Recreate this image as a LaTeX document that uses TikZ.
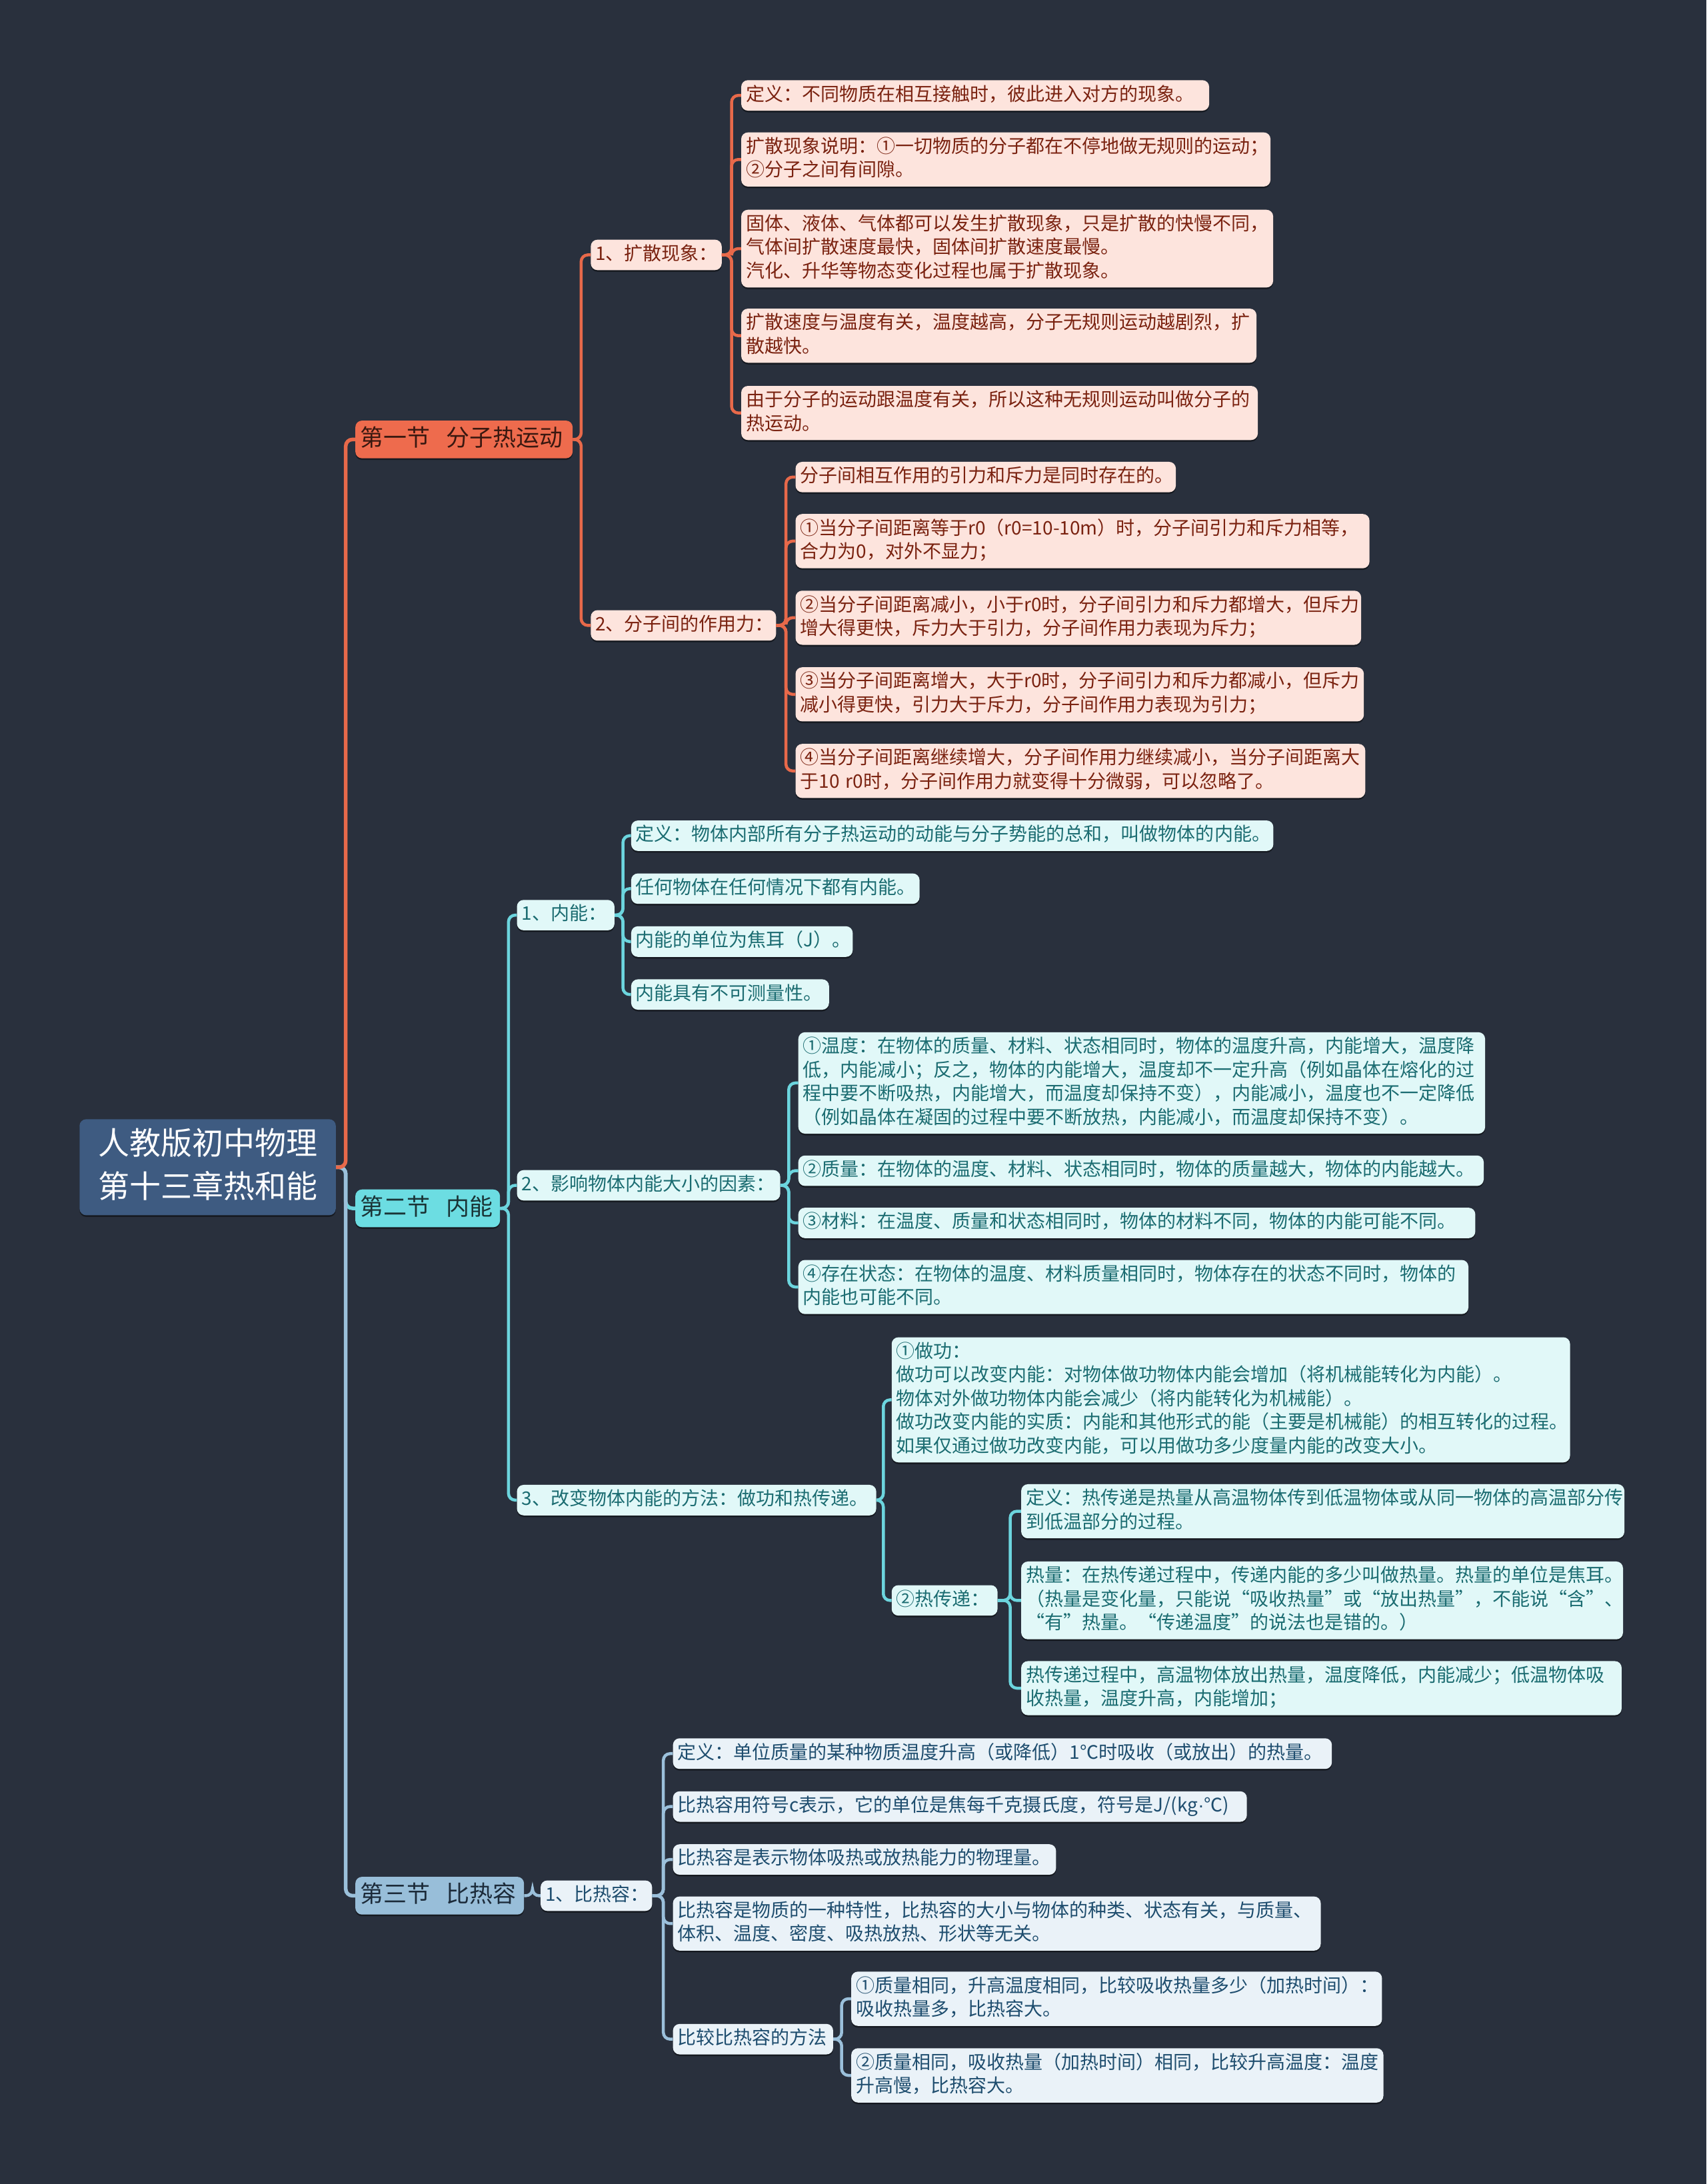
\documentclass[tikz,border=0pt]{standalone}
\usepackage{fontspec}
\setmainfont{Noto Sans CJK SC}
\newfontfamily\latinfont{Liberation Sans}
\usetikzlibrary{calc,shadows}
\definecolor{bg}{HTML}{29303D}
\definecolor{rootfill}{HTML}{3E5B81}
\definecolor{sAfill}{HTML}{EE6B4D}
\definecolor{sAtext}{HTML}{3A1810}
\definecolor{sBfill}{HTML}{6CDDE2}
\definecolor{sBtext}{HTML}{1A3436}
\definecolor{sCfill}{HTML}{98BED9}
\definecolor{sCtext}{HTML}{1C2B3A}
\definecolor{lAfill}{HTML}{FDE4DD}
\definecolor{lAtext}{HTML}{7A2210}
\definecolor{lBfill}{HTML}{E1F8F8}
\definecolor{lBtext}{HTML}{1B6C71}
\definecolor{lCfill}{HTML}{EAF2F8}
\definecolor{lCtext}{HTML}{1E4D6E}
\definecolor{lineA}{HTML}{E8694A}
\definecolor{lineB}{HTML}{6CD5DE}
\definecolor{lineC}{HTML}{9BC0DB}
\newcommand\lstrut{\rule[-8pt]{0pt}{27.5pt}}
\newcommand\sstrut{\rule[-9pt]{0pt}{34pt}}
\newcommand\rstrut{\rule[-12pt]{0pt}{46pt}}
\newcommand\branch[4]{\draw[#1] (#2.east) -- ($(#2.east)+(#3,0)$) |- (#4.west);}
\tikzset{
  boxbase/.style={rounded corners=10pt, anchor=west, align=left,
    drop shadow={opacity=0.45, shadow xshift=0pt, shadow yshift=-2.5pt, fill=black}},
  leafbase/.style={boxbase, inner xsep=7pt, inner ysep=7pt,
    font=\fontsize{28}{35.5}\selectfont,
    execute at begin node=\lstrut, execute at end node=\lstrut},
  leafA/.style={leafbase, fill=lAfill, text=lAtext},
  leafB/.style={leafbase, fill=lBfill, text=lBtext},
  leafC/.style={leafbase, fill=lCfill, text=lCtext},
  secbase/.style={boxbase, inner xsep=7pt, inner ysep=9pt,
    font=\fontsize{35}{44}\selectfont,
    execute at begin node=\sstrut, execute at end node=\sstrut},
  secA/.style={secbase, fill=sAfill, text=sAtext},
  secB/.style={secbase, fill=sBfill, text=sBtext},
  secC/.style={secbase, fill=sCfill, text=sCtext},
  rootbox/.style={boxbase, fill=rootfill, text=white, align=center,
    inner xsep=8pt, inner ysep=13.75pt, font=\fontsize{47}{65}\selectfont,
    execute at begin node=\rstrut, execute at end node=\rstrut},
  conbase/.style={rounded corners=10pt, line width=4.5pt},
  conA/.style={conbase, draw=lineA},
  conB/.style={conbase, draw=lineB},
  conC/.style={conbase, draw=lineC},
}
\begin{document}
\begin{tikzpicture}[x=2.0898pt,y=-2.0898pt]
\fill[bg] (0,0) rectangle (1225,1568);
\useasboundingbox (0,0) rectangle (1225,1568);

% root and sections
\node[rootbox, text width=368.5pt] (root) at (57,838) {人教版初中物理\\第十三章热和能};
\node[secA, text width=312pt] (s1) at (255,315.5) {第一节\hspace{24pt}分子热运动};
\node[secB, text width=203pt] (s2) at (255,867.5) {第二节\hspace{24pt}内能};
\node[secC, text width=239pt] (s3) at (255,1361) {第三节\hspace{24pt}比热容};

% section 1
\node[leafA, text width=182.4pt] (b1) at (424,183) {1、扩散现象：};
\node[leafA, text width=264pt] (b2) at (424,449) {2、分子间的作用力：};

\node[leafA, text width=688pt] (a1) at (532,68.5) {定义：不同物质在相互接触时，彼此进入对方的现象。};
\node[leafA, text width=780pt] (a2) at (532,114.5) {扩散现象说明：①一切物质的分子都在不停地做无规则的运动；\\②分子之间有间隙。};
\node[leafA, text width=784pt] (a3) at (532,178.5) {固体、液体、气体都可以发生扩散现象，只是扩散的快慢不同，\\气体间扩散速度最快，固体间扩散速度最慢。\\汽化、升华等物态变化过程也属于扩散现象。};
\node[leafA, text width=759pt] (a4) at (532,241) {扩散速度与温度有关，温度越高，分子无规则运动越剧烈，扩\\散越快。};
\node[leafA, text width=761pt] (a5) at (532,296.5) {由于分子的运动跟温度有关，所以这种无规则运动叫做分子的\\热运动。};

\node[leafA, text width=556.5pt] (c1) at (571,342.5) {分子间相互作用的引力和斥力是同时存在的。};
\node[leafA, text width=847pt] (c2) at (571,388.5) {①当分子间距离等于r0（r0=10-10m）时，分子间引力和斥力相等，\\合力为0，对外不显力；};
\node[leafA, text width=834.5pt] (c3) at (571,443.5) {②当分子间距离减小，小于r0时，分子间引力和斥力都增大，但斥力\\增大得更快，斥力大于引力，分子间作用力表现为斥力；};
\node[leafA, text width=838.6pt] (c4) at (571,498.5) {③当分子间距离增大，大于r0时，分子间引力和斥力都减小，但斥力\\减小得更快，引力大于斥力，分子间作用力表现为引力；};
\node[leafA, text width=840.7pt] (c5) at (571,553.5) {④当分子间距离继续增大，分子间作用力继续减小，当分子间距离大\\于10~r0时，分子间作用力就变得十分微弱，可以忽略了。};

% section 2
\node[leafB, text width=132.3pt] (d1) at (371,657) {1、内能：};
\node[leafB, text width=381pt] (d2) at (371,851) {2、影响物体内能大小的因素：};
\node[leafB, text width=525pt] (d3) at (371,1077) {3、改变物体内能的方法：做功和热传递。};

\node[leafB, text width=949.4pt] (e1) at (453,600) {定义：物体内部所有分子热运动的动能与分子势能的总和，叫做物体的内能。};
\node[leafB, text width=418.6pt] (e2) at (453,638) {任何物体在任何情况下都有内能。};
\node[leafB, text width=318.3pt] (e3) at (453,676) {内能的单位为焦耳（J）。};
\node[leafB, text width=282.8pt] (e4) at (453,714) {内能具有不可测量性。};

\node[leafB, text width=1016.3pt] (f1) at (573,777.5) {①温度：在物体的质量、材料、状态相同时，物体的温度升高，内能增大，温度降\\低，内能减小；反之，物体的内能增大，温度却不一定升高（例如晶体在熔化的过\\程中要不断吸热，内能增大，而温度却保持不变），内能减小，温度也不一定降低\\（例如晶体在凝固的过程中要不断放热，内能减小，而温度却保持不变）。};
\node[leafB, text width=1014.2pt] (f2) at (573,840.5) {②质量：在物体的温度、材料、状态相同时，物体的质量越大，物体的内能越大。};
\node[leafB, text width=1001.6pt] (f3) at (573,878) {③材料：在温度、质量和状态相同时，物体的材料不同，物体的内能可能不同。};
\node[leafB, text width=991.2pt] (f4) at (573,924) {④存在状态：在物体的温度、材料质量相同时，物体存在的状态不同时，物体的\\内能也可能不同。};

\node[leafB, text width=1003.7pt] (g1) at (640,1005) {①做功：\\做功可以改变内能：对物体做功物体内能会增加（将机械能转化为内能）。\\物体对外做功物体内能会减少（将内能转化为机械能）。\\做功改变内能的实质：内能和其他形式的能（主要是机械能）的相互转化的过程。\\如果仅通过做功改变内能，可以用做功多少度量内能的改变大小。};
\node[leafB, text width=144.8pt] (g2) at (640,1149) {②热传递：};

\node[leafB, text width=890.9pt] (h1) at (733,1085) {定义：热传递是热量从高温物体传到低温物体或从同一物体的高温部分传\\到低温部分的过程。};
\node[leafB, text width=888.8pt] (h2) at (733,1149) {热量：在热传递过程中，传递内能的多少叫做热量。热量的单位是焦耳。\\（热量是变化量，只能说“吸收热量”或“放出热量”，不能说“含”、\\“有”热量。“传递温度”的说法也是错的。）};
\node[leafB, text width=886.7pt] (h3) at (733,1212) {热传递过程中，高温物体放出热量，温度降低，内能减少；低温物体吸\\收热量，温度升高，内能增加；};

% section 3
\node[leafC, text width=153.2pt] (i1) at (388,1361) {1、比热容：};
\node[leafC, text width=974.5pt] (j1) at (483,1259) {定义：单位质量的某种物质温度升高（或降低）1℃时吸收（或放出）的热量。};
\node[leafC, text width=847pt] (j2) at (483,1297) {比热容用符号c表示，它的单位是焦每千克摄氏度，符号是J/(kg{\latinfont ·}℃)};
\node[leafC, text width=560.7pt] (j3) at (483,1335) {比热容是表示物体吸热或放热能力的物理量。};
\node[leafC, text width=957.8pt] (j4) at (483,1381) {比热容是物质的一种特性，比热容的大小与物体的种类、状态有关，与质量、\\体积、温度、密度、吸热放热、形状等无关。};
\node[leafC, text width=226.3pt] (j5) at (483,1464) {比较比热容的方法};
\node[leafC, text width=782.2pt] (k1) at (611,1435) {①质量相同，升高温度相同，比较吸收热量多少（加热时间）：\\吸收热量多，比热容大。};
\node[leafC, text width=784.3pt] (k2) at (611,1490) {②质量相同，吸收热量（加热时间）相同，比较升高温度：温度\\升高慢，比热容大。};

% connectors
\branch{conB, line width=5.5pt}{root}{7}{s2}
\branch{conC, line width=5.5pt}{root}{7}{s3}
\branch{conA, line width=5.5pt}{root}{7}{s1}

\foreach \c in {b1,b2} {\branch{conA}{s1}{6}{\c}}
\foreach \c in {a1,a2,a3,a4,a5} {\branch{conA}{b1}{7}{\c}}
\foreach \c in {c1,c2,c3,c4,c5} {\branch{conA}{b2}{7}{\c}}

\foreach \c in {d1,d2,d3} {\branch{conB}{s2}{6}{\c}}
\foreach \c in {e1,e2,e3,e4} {\branch{conB}{d1}{6}{\c}}
\foreach \c in {f1,f2,f3,f4} {\branch{conB}{d2}{6}{\c}}
\foreach \c in {g1,g2} {\branch{conB}{d3}{5}{\c}}
\foreach \c in {h1,h2,h3} {\branch{conB}{g2}{9}{\c}}

\branch{conC}{s3}{6}{i1}
\foreach \c in {j1,j2,j3,j4,j5} {\branch{conC}{i1}{8}{\c}}
\foreach \c in {k1,k2} {\branch{conC}{j5}{6}{\c}}
\end{tikzpicture}
\end{document}
